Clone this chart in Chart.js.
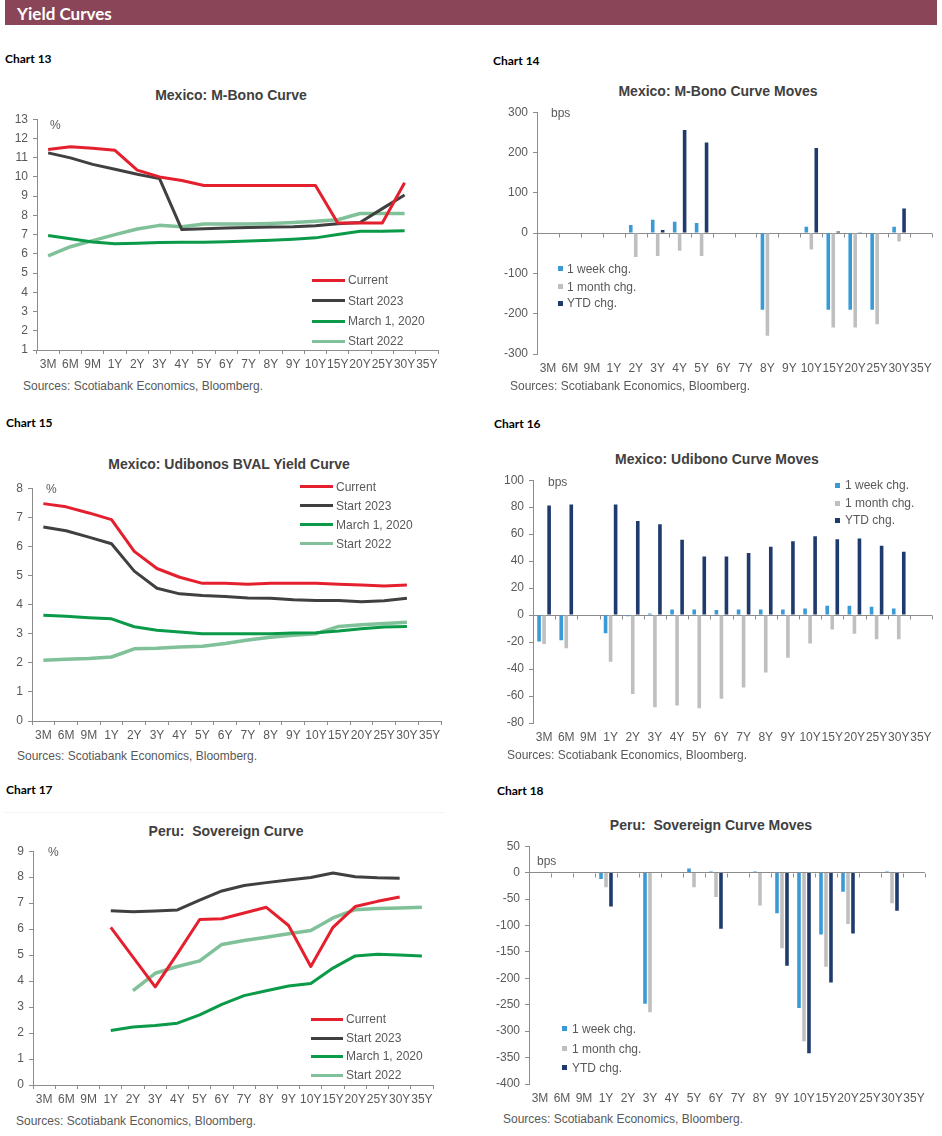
<!DOCTYPE html>
<html><head><meta charset="utf-8">
<script src="https://cdn.jsdelivr.net/npm/chart.js@4.4.0/dist/chart.umd.min.js"></script>
<style>
body{margin:0;width:942px;height:1136px;position:relative;background:#fff;overflow:hidden;font-family:"Liberation Sans",Arial,sans-serif;}
.a{position:absolute;white-space:pre;line-height:1;}
.hdr{position:absolute;left:5px;top:0;width:932px;height:25px;background:#8b4558;}
.hdr span{position:absolute;left:12px;top:50%;transform:translateY(-50%);color:#fff;font:700 17px Lato,"Open Sans",sans-serif;}
.cl{font:700 12px Lato,"Open Sans",sans-serif;color:#000;transform:translateY(-50%);}
.tt{font:700 14px "Liberation Sans",Arial,sans-serif;color:#404040;transform:translate(-50%,-50%);}
.tx{font:12px "Liberation Sans",Arial,sans-serif;color:#595959;transform:translateY(-50%);}
.ln{position:absolute;height:3px;}
.sq{position:absolute;width:5px;height:5px;}
.cw{position:absolute;}
</style></head>
<body>
<div class="hdr"><span>Yield Curves</span></div>
<div id="root"></div>
<script>
// ---------- DATA ----------
const tenors = ['3M','6M','9M','1Y','2Y','3Y','4Y','5Y','6Y','7Y','8Y','9Y','10Y','15Y','20Y','25Y','30Y','35Y'];
const lineSeriesNames = ['Current','Start 2023','March 1, 2020','Start 2022'];
const barSeriesNames = ['1 week chg.','1 month chg.','YTD chg.'];

// Chart 13: Mexico M-Bono curve (%)
const mbCurrent   = [11.42,11.57,11.49,11.38,10.35,10.0,9.81,9.55,9.55,9.55,9.55,9.55,9.55,7.6,7.6,7.6,9.7,null];
const mbStart2023 = [11.25,10.99,10.65,10.4,10.14,9.91,7.26,7.31,7.34,7.37,7.39,7.41,7.46,7.56,7.63,8.35,9.06,null];
const mbMar2020   = [6.95,6.78,6.62,6.52,6.55,6.59,6.6,6.6,6.63,6.67,6.71,6.76,6.83,7.0,7.17,7.17,7.2,null];
const mbStart2022 = [5.89,6.37,6.69,7.0,7.29,7.48,7.41,7.55,7.55,7.55,7.58,7.63,7.69,7.77,8.1,8.1,8.1,null];

// Chart 14: M-Bono curve moves (bps)
const mbWeek  = [null,null,null,null,20,33,28,25,null,null,-190,null,16,-190,-190,-190,16,null];
const mbMonth = [null,null,null,null,-59,-57,-44,-57,null,null,-255,null,-41,-234,-234,-226,-21,null];
const mbYTD   = [null,null,null,null,null,8,256,225,null,null,null,null,211,4,1,null,61,null];

// Chart 15: Udibonos BVAL curve (%)
const udCurrent   = [7.47,7.36,7.15,6.92,5.83,5.24,4.94,4.73,4.73,4.7,4.73,4.73,4.73,4.7,4.67,4.64,4.67,null];
const udStart2023 = [6.67,6.54,6.32,6.09,5.15,4.56,4.37,4.31,4.28,4.23,4.22,4.17,4.14,4.14,4.1,4.13,4.22,null];
const udMar2020   = [3.63,3.6,3.55,3.51,3.24,3.12,3.06,3.0,3.0,3.0,3.0,3.02,3.03,3.09,3.17,3.23,3.25,null];
const udStart2022 = [2.09,2.12,2.15,2.2,2.48,2.5,2.54,2.57,2.66,2.78,2.88,2.95,3.0,3.25,3.31,3.35,3.39,null];

// Chart 16: Udibono curve moves (bps)
const udWeek  = [-19.6,-18.7,null,-13.5,-0.8,1.2,4.2,4.2,3.7,4.2,4.2,4.2,4.9,6.9,6.9,6.1,4.9,null];
const udMonth = [-21.4,-24.6,null,-34.6,-58.5,-68.3,-67,-69,-62,-53.6,-42.5,-31.7,-21.1,-10.6,-13.8,-17.9,-17.9,null];
const udYTD   = [81.3,82,null,82,69.8,67.3,55.8,43.5,43.5,46,50.6,54.8,58.5,56.3,56.8,51.4,47,null];

// Chart 17: Peru sovereign curve (%)
const peCurrent   = [null,null,null,6.07,null,3.78,5.06,6.37,6.4,6.62,6.84,6.14,4.56,6.07,6.87,7.07,7.24,null];
const peStart2023 = [null,null,null,6.71,6.67,6.7,6.74,7.12,7.47,7.68,7.79,7.89,7.99,8.16,8.02,7.98,7.96,null];
const peMar2020   = [null,null,null,2.1,2.23,2.29,2.38,2.7,3.1,3.44,3.63,3.81,3.91,4.5,4.97,5.03,5.0,4.97];
const peStart2022 = [null,null,null,null,3.63,4.3,4.56,4.78,5.41,5.56,5.69,5.82,5.95,6.43,6.75,6.79,6.81,6.84];

// Chart 18: Peru sovereign curve moves (bps)
const peWeek  = [null,null,null,-12,null,-248,null,8,2,null,2,-77,-256,-117,-36,null,2,null];
const peMonth = [null,null,null,-27.5,null,-264,null,-27.5,-46,null,-62,-143,-319,-178,-97,null,-58,null];
const peYTD   = [null,null,null,-64,null,null,null,null,-106,null,null,-176,-342,-208,-115,null,-72,null];

// ---------- STYLE ----------
const lineColors = ['#e5202e','#404040','#0a9a48','#80c199'];
const lineWidths = [3,3,3,3.5];
const barColors = ['#3a9ad6','#bfbfbf','#1f3b6e'];
const axisColor = '#8c8c8c';

Chart.defaults.font.family = '"Liberation Sans", Arial, sans-serif';
Chart.defaults.font.size = 12;
Chart.defaults.color = '#595959';
Chart.defaults.animation = false;

const root = document.getElementById('root');
function el(cls, txt, x, y, extra) {
  const d = document.createElement('div');
  d.className = 'a ' + cls; d.textContent = txt;
  d.style.left = x + 'px'; d.style.top = y + 'px';
  if (extra) Object.assign(d.style, extra);
  root.appendChild(d); return d;
}

const zeroTicks = {
  id: 'zeroTicks',
  afterDatasetsDraw(chart) {
    const x = chart.scales.x, y = chart.scales.y, ctx = chart.ctx;
    const y0 = Math.round(y.getPixelForValue(0)) + 0.5;
    const half = (x.getPixelForValue(1) - x.getPixelForValue(0)) / 2;
    ctx.save(); ctx.strokeStyle = axisColor; ctx.lineWidth = 1; ctx.beginPath();
    for (let i = 0; i <= x.ticks.length; i++) {
      const px = Math.round(x.getPixelForValue(i) - half) + 0.5;
      ctx.moveTo(px, y0); ctx.lineTo(px, y0 + 4);
    }
    ctx.stroke(); ctx.restore();
  }
};

function makeChart(g, type, series, names, yMin, yMax, yStep) {
  const W = g.W, padT = 10, padR = 4, H = 24, padB = 2;
  const left = g.L - W, top = g.T - padT;
  const width = g.R + padR - left, height = g.B + H + padB - top;
  const wrap = document.createElement('div');
  wrap.className = 'cw';
  Object.assign(wrap.style, {left: left + 'px', top: top + 'px', width: width + 'px', height: height + 'px'});
  const cv = document.createElement('canvas');
  wrap.appendChild(cv); root.appendChild(wrap);
  const isBar = type === 'bar';
  const datasets = series.map((s, i) => isBar ? {
      label: names[i], data: s, backgroundColor: barColors[i],
      categoryPercentage: 0.68, barPercentage: 0.72
    } : {
      label: names[i], data: s, borderColor: lineColors[i], backgroundColor: lineColors[i],
      borderWidth: lineWidths[i], pointRadius: 0, tension: 0, spanGaps: true,
      borderJoinStyle: 'round', borderCapStyle: 'butt'
    });
  new Chart(cv, {
    type: type,
    data: {labels: tenors, datasets: datasets},
    plugins: isBar ? [zeroTicks] : [],
    options: {
      responsive: true, maintainAspectRatio: false,
      layout: {padding: {top: padT, right: padR, bottom: padB, left: 0}},
      plugins: {legend: {display: false}, title: {display: false}, tooltip: {enabled: false}},
      scales: {
        x: {
          type: 'category', offset: true,
          grid: isBar ? {display: false, drawTicks: true, tickLength: 4}
                      : {display: true, offset: true, drawOnChartArea: false, drawTicks: true, tickLength: 4, tickColor: axisColor, color: axisColor},
          border: {display: !isBar, color: axisColor},
          ticks: {autoSkip: false, maxRotation: 0, minRotation: 0, padding: 3},
          afterFit: s => { s.height = H; }
        },
        y: {
          min: yMin, max: yMax,
          ticks: {stepSize: yStep, padding: 5},
          grid: isBar ? {drawOnChartArea: true, drawTicks: true, tickLength: 4, tickColor: axisColor,
                         color: c => (c.tick && c.tick.value === 0) ? axisColor : 'rgba(0,0,0,0)'}
                      : {drawOnChartArea: false, drawTicks: true, tickLength: 4, tickColor: axisColor, color: axisColor},
          border: {display: true, color: axisColor},
          afterFit: s => { s.width = W; }
        }
      }
    }
  });
}

function lineLegend(x1, x2, xt, ys) {
  lineSeriesNames.forEach((n, i) => {
    const d = document.createElement('div'); d.className = 'ln';
    Object.assign(d.style, {left: x1 + 'px', width: (x2 - x1) + 'px', top: (ys[i] - 1.5) + 'px', background: lineColors[i]});
    root.appendChild(d);
    el('tx', n, xt, ys[i]);
  });
}
function barLegend(xs, xt, ys) {
  barSeriesNames.forEach((n, i) => {
    const d = document.createElement('div'); d.className = 'sq';
    Object.assign(d.style, {left: xs + 'px', top: (ys[i] - 2.5) + 'px', background: barColors[i]});
    root.appendChild(d);
    el('tx', n, xt, ys[i]);
  });
}
const SRC = 'Sources: Scotiabank Economics, Bloomberg.';

// Chart labels
el('cl', 'Chart 13', 5, 58); el('cl', 'Chart 14', 493, 60);
el('cl', 'Chart 15', 6, 422); el('cl', 'Chart 16', 494, 423);
el('cl', 'Chart 17', 6, 789); el('cl', 'Chart 18', 497, 790);

// Chart 13
el('tt', 'Mexico: M-Bono Curve', 231, 95);
makeChart({L: 37, T: 117, R: 438, B: 350, W: 30}, 'line', [mbCurrent, mbStart2023, mbMar2020, mbStart2022], lineSeriesNames, 1, 13, 1);
el('tx', '%', 50, 125);
lineLegend(312, 345, 348, [280, 300.5, 321, 341]);
el('tx', SRC, 23, 386);

// Chart 14
el('tt', 'Mexico: M-Bono Curve Moves', 718, 91);
makeChart({L: 537, T: 110, R: 932, B: 354, W: 44}, 'bar', [mbWeek, mbMonth, mbYTD], barSeriesNames, -300, 300, 100);
el('tx', 'bps', 551, 113);
barLegend(558, 567, [268.5, 286.5, 303]);
el('tx', SRC, 510, 386);

// Chart 15
el('tt', 'Mexico: Udibonos BVAL Yield Curve', 229, 464);
makeChart({L: 32, T: 486, R: 441, B: 721, W: 30}, 'line', [udCurrent, udStart2023, udMar2020, udStart2022], lineSeriesNames, 0, 8, 1);
el('tx', '%', 46, 489);
lineLegend(300, 333, 336, [486.7, 505.7, 524.7, 543.7]);
el('tx', SRC, 17, 756);

// Chart 16
el('tt', 'Mexico: Udibono Curve Moves', 717, 459);
makeChart({L: 533, T: 478, R: 932, B: 723, W: 44}, 'bar', [udWeek, udMonth, udYTD], barSeriesNames, -80, 100, 20);
el('tx', 'bps', 548, 482);
barLegend(835, 845, [485, 503, 520]);
el('tx', SRC, 507, 755);

// Chart 17
const sep = document.createElement('div');
Object.assign(sep.style, {position: 'absolute', left: '5px', top: '812px', width: '440px', height: '1px', background: '#f3f3f3'});
root.appendChild(sep);
el('tt', 'Peru:  Sovereign Curve', 226, 831);
makeChart({L: 33, T: 849, R: 433, B: 1085, W: 30}, 'line', [peCurrent, peStart2023, peMar2020, peStart2022], lineSeriesNames, 0, 9, 1);
el('tx', '%', 48, 852);
lineLegend(311, 343, 346, [1019, 1038, 1056, 1075]);
el('tx', SRC, 16, 1121);

// Chart 18
el('tt', 'Peru:  Sovereign Curve Moves', 711, 825);
makeChart({L: 529, T: 844, R: 925, B: 1084, W: 44}, 'bar', [peWeek, peMonth, peYTD], barSeriesNames, -400, 50, 50);
el('tx', 'bps', 537, 861);
barLegend(562, 572, [1028.5, 1048.5, 1067.5]);
el('tx', SRC, 503, 1119);
</script>
</body></html>
